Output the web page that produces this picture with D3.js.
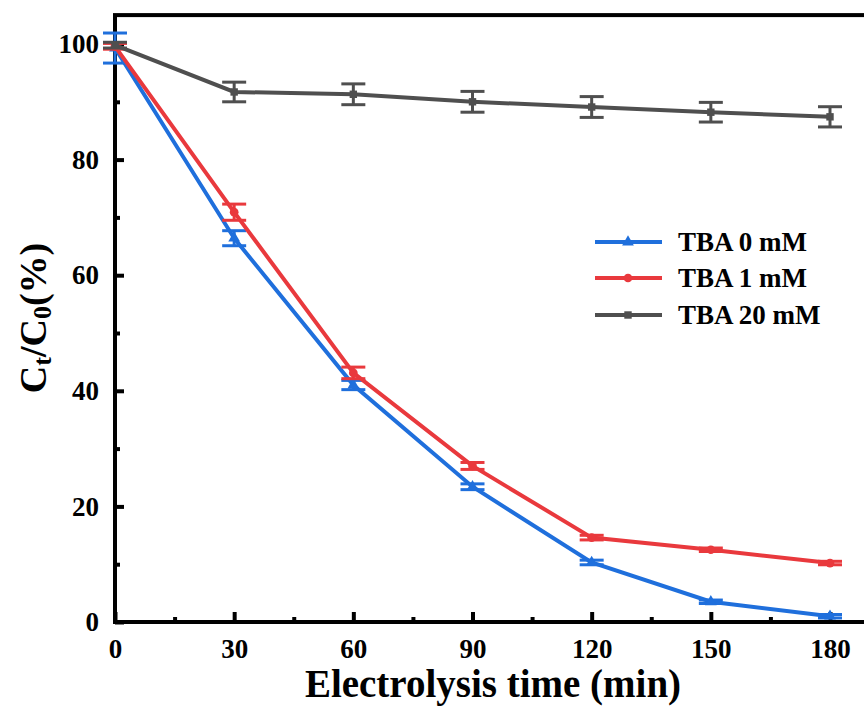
<!DOCTYPE html>
<html>
<head>
<meta charset="utf-8">
<script src="https://cdn.jsdelivr.net/npm/d3@7"></script>
<style>
body { margin: 0; background: #fff; }
svg text { font-family: "Liberation Serif", "DejaVu Serif", "Times New Roman", Times, serif !important; font-weight: bold; }
</style>
</head>
<body>
<script>
// data
var times = [0, 30, 60, 90, 120, 150, 180];
var tba0 = [99.3, 66.4, 41.0, 23.4, 10.3, 3.5, 1.0];
var err0 = [2.6, 1.3, 0.8, 0.5, 0.4, 0.3, 0.3];
var tba1 = [99.6, 70.9, 43.1, 27.0, 14.6, 12.5, 10.2];
var err1 = [0.5, 1.4, 1.0, 0.6, 0.4, 0.3, 0.3];
var tba20 = [99.8, 91.7, 91.3, 90.0, 89.1, 88.2, 87.4];
var err20 = [0.5, 1.7, 1.8, 1.8, 1.8, 1.7, 1.75];
var xTicks = [0, 30, 60, 90, 120, 150, 180];
var yTicks = [0, 20, 40, 60, 80, 100];

var serif = '"Liberation Serif", "DejaVu Serif", "Times New Roman", serif';
var width = 864, height = 709;
var svg = d3.select("body").append("svg")
  .attr("width", width).attr("height", height);

var x = d3.scaleLinear().domain([0, 180]).range([115, 830]);
var y = d3.scaleLinear().domain([0, 100]).range([622, 44]);

var series = [
  {name: "TBA 0 mM", values: tba0, err: err0, color: "#1f6fdc", shape: d3.symbolTriangle, size: 60},
  {name: "TBA 1 mM", values: tba1, err: err1, color: "#e9393d", shape: d3.symbolCircle, size: 60},
  {name: "TBA 20 mM", values: tba20, err: err20, color: "#4f4f4f", shape: d3.symbolSquare, size: 55}
];

// minor ticks
svg.append("g").attr("transform", "translate(0," + y(0) + ")")
  .call(d3.axisBottom(x).tickValues([15, 45, 75, 105, 135, 165]).tickSize(-5).tickSizeOuter(0).tickFormat(""))
  .call(function(g){ g.select(".domain").remove(); g.selectAll("line").attr("stroke-width", 4); });
svg.append("g").attr("transform", "translate(" + x(0) + ",0)")
  .call(d3.axisLeft(y).tickValues([10, 30, 50, 70, 90]).tickSize(-5).tickSizeOuter(0).tickFormat(""))
  .call(function(g){ g.select(".domain").remove(); g.selectAll("line").attr("stroke-width", 4); });

// major ticks
var xAxis = svg.append("g").attr("transform", "translate(0," + y(0) + ")")
  .call(d3.axisBottom(x).tickValues(xTicks).tickSize(-10).tickSizeOuter(0).tickPadding(17));
xAxis.attr("font-family", null);
xAxis.select(".domain").remove();
xAxis.selectAll("line").attr("stroke-width", 4);
xAxis.selectAll("text").attr("font-size", 27).style("font-family", serif).style("font-weight", "bold").attr("fill", "#000");

var yAxis = svg.append("g").attr("transform", "translate(" + x(0) + ",0)")
  .call(d3.axisLeft(y).tickValues(yTicks).tickSize(-9).tickSizeOuter(0).tickPadding(16));
yAxis.attr("font-family", null);
yAxis.select(".domain").remove();
yAxis.selectAll("line").attr("stroke-width", 4);
yAxis.selectAll("text").attr("font-size", 27).style("font-family", serif).style("font-weight", "bold").attr("fill", "#000");

// frame (right side runs off the picture)
svg.append("rect")
  .attr("x", x(0)).attr("y", y(105))
  .attr("width", x(190) - x(0)).attr("height", y(0) - y(105))
  .attr("fill", "none").attr("stroke", "#000").attr("stroke-width", 4);

var line = d3.line().x(function(d){ return x(d[0]); }).y(function(d){ return y(d[1]); });

series.forEach(function(s) {
  var pts = times.map(function(t, i){ return [t, s.values[i], s.err[i]]; });
  var g = svg.append("g");
  g.append("path").attr("d", line(pts)).attr("fill", "none")
    .attr("stroke", s.color).attr("stroke-width", 4);
  var eb = g.selectAll(".eb").data(pts).enter().append("g").attr("stroke", s.color).attr("stroke-width", 3);
  eb.append("line").attr("x1", function(d){ return x(d[0]); }).attr("x2", function(d){ return x(d[0]); })
    .attr("y1", function(d){ return y(d[1] + d[2]); }).attr("y2", function(d){ return y(d[1] - d[2]); });
  eb.append("line").attr("x1", function(d){ return x(d[0]) - 12; }).attr("x2", function(d){ return x(d[0]) + 12; })
    .attr("y1", function(d){ return y(d[1] + d[2]); }).attr("y2", function(d){ return y(d[1] + d[2]); });
  eb.append("line").attr("x1", function(d){ return x(d[0]) - 12; }).attr("x2", function(d){ return x(d[0]) + 12; })
    .attr("y1", function(d){ return y(d[1] - d[2]); }).attr("y2", function(d){ return y(d[1] - d[2]); });
  g.selectAll(".mk").data(pts).enter().append("path")
    .attr("d", d3.symbol().type(s.shape).size(s.size))
    .attr("transform", function(d){ return "translate(" + x(d[0]) + "," + y(d[1]) + ")"; })
    .attr("fill", s.color);
});

// legend
var legend = svg.append("g").selectAll(".legends").data(series).enter().append("g")
  .attr("transform", function(d, i){ return "translate(595," + [242, 278, 315][i] + ")"; });
legend.append("line").attr("x1", 0).attr("x2", 67).attr("y1", 0).attr("y2", 0)
  .attr("stroke", function(d){ return d.color; }).attr("stroke-width", 4);
legend.append("path").attr("d", function(d){ return d3.symbol().type(d.shape).size(d.size)(); })
  .attr("transform", "translate(33,0)").attr("fill", function(d){ return d.color; });
legend.append("text").attr("x", 83).attr("y", 9).attr("font-size", 27)
  .style("font-family", serif).style("font-weight", "bold")
  .text(function(d){ return d.name; });

// axis titles
svg.append("text").attr("x", 493).attr("y", 697).attr("text-anchor", "middle")
  .attr("font-size", 39).style("font-family", serif).style("font-weight", "bold")
  .text("Electrolysis time (min)");

var yt = svg.append("text").attr("transform", "translate(46,318) rotate(-90)")
  .attr("text-anchor", "middle").attr("font-size", 38)
  .style("font-family", serif).style("font-weight", "bold");
yt.append("tspan").text("C");
yt.append("tspan").attr("font-size", 26).attr("dy", 5).text("t");
yt.append("tspan").attr("dy", -5).text("/C");
yt.append("tspan").attr("font-size", 26).attr("dy", 5).text("0");
yt.append("tspan").attr("dy", -5).text("(%)");
</script>
</body>
</html>
